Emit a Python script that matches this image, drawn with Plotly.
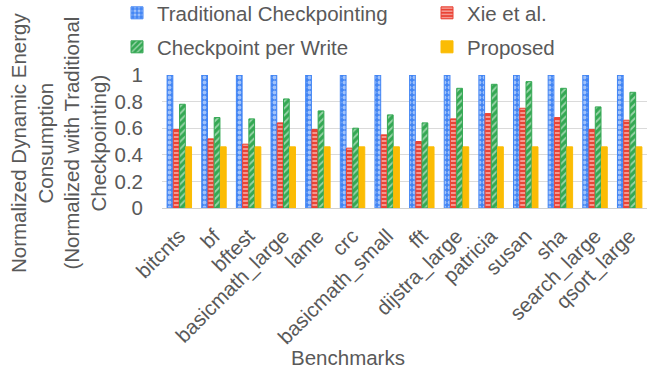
import plotly.graph_objects as go

categories = ["bitcnts", "bf", "bftest", "basicmath_large", "lame", "crc",
              "basicmath_small", "fft", "dijstra_large", "patricia", "susan",
              "sha", "search_large", "qsort_large"]
traditional = [1, 1, 1, 1, 1, 1, 1, 1, 1, 1, 1, 1, 1, 1]
xie = [0.59, 0.52, 0.48, 0.64, 0.59, 0.45, 0.55, 0.50, 0.67, 0.71, 0.75, 0.68, 0.59, 0.66]
per_write = [0.78, 0.68, 0.67, 0.82, 0.73, 0.60, 0.70, 0.64, 0.90, 0.93, 0.95, 0.90, 0.76, 0.87]
proposed = [0.46, 0.46, 0.46, 0.46, 0.46, 0.46, 0.46, 0.46, 0.46, 0.46, 0.46, 0.46, 0.46, 0.46]
y_ticks = [0, 0.2, 0.4, 0.6, 0.8, 1]
y_tick_text = ["0", "0.2", "0.4", "0.6", "0.8", "1"]

FONT = "Liberation Sans, Arial, sans-serif"
GREY = "#595959"
FS = 20.5

W, H = 647, 378
# plot box in screen coordinates
SL, SR, ST, SB = 162, 647, 75, 208
ML, MR, MT, MB = SL, W - SR, ST, H - SB
PW, PH = W - ML - MR, H - MT - MB

def px(x):
    return (x - ML) / PW

def py(y):
    return (H - MB - y) / PH

fig = go.Figure()
series = [
    ("Traditional Checkpointing", traditional, "#4285F4", ".", 5, 0.45, "legend"),
    ("Xie et al.", xie, "#EA4335", "-", 4, 0.45, "legend"),
    ("Checkpoint per Write", per_write, "#34A853", "/", 5, 0.35, "legend2"),
    ("Proposed", proposed, "#FBBC04", "", 5, 0.3, "legend2"),
]
for name, vals, col, shape, size, sol, leg in series:
    marker = dict(color=col, line=dict(color=col, width=1))
    if shape:
        marker["pattern"] = dict(shape=shape, fillmode="overlay", fgcolor="white",
                                 size=size, solidity=sol)
    fig.add_trace(go.Bar(x=categories, y=vals, name=name, marker=marker, legend=leg))

legend_common = dict(orientation="h", entrywidth=265, entrywidthmode="pixels",
                     font=dict(family=FONT, size=FS, color=GREY),
                     bgcolor="rgba(0,0,0,0)", xanchor="left", yanchor="middle",
                     itemwidth=30, tracegroupgap=0)

fig.update_layout(
    width=W, height=H,
    margin=dict(l=ML, r=MR, t=MT, b=MB, pad=0, autoexpand=False),
    paper_bgcolor="white", plot_bgcolor="white",
    barmode="group", bargap=0.28, bargroupgap=0.08,
    font=dict(family=FONT, size=FS, color=GREY),
    legend=dict(x=px(117), y=py(13), **legend_common),
    legend2=dict(x=px(117), y=py(47), **legend_common),
    xaxis=dict(tickangle=-45, tickfont=dict(family=FONT, size=FS, color=GREY),
               showline=True, linecolor="#d0d0d0", linewidth=1, ticks="",
               ticklabelstandoff=7, automargin=False),
    yaxis=dict(range=[0, 1.0], tickvals=y_ticks, ticktext=y_tick_text,
               tickfont=dict(family=FONT, size=FS, color=GREY),
               showgrid=True, gridcolor="#dadada", gridwidth=1,
               zeroline=False, ticks="", ticklabelstandoff=18,
               automargin=False),
    annotations=[
        dict(text="Normalized Dynamic Energy<br>Consumption<br>(Normalized with Traditional<br>Checkpointing)",
             x=px(58), y=py(143), xref="paper", yref="paper", textangle=-90,
             showarrow=False, xanchor="center", yanchor="middle",
             font=dict(family=FONT, size=FS, color=GREY)),
        dict(text="Benchmarks", x=px(348), y=py(357), xref="paper", yref="paper",
             showarrow=False, xanchor="center", yanchor="middle",
             font=dict(family=FONT, size=FS, color=GREY)),
    ],
)

fig.write_html("out.html",
               config={"displayModeBar": False},
               post_script="document.body.style.margin='0';document.body.style.padding='0';")
